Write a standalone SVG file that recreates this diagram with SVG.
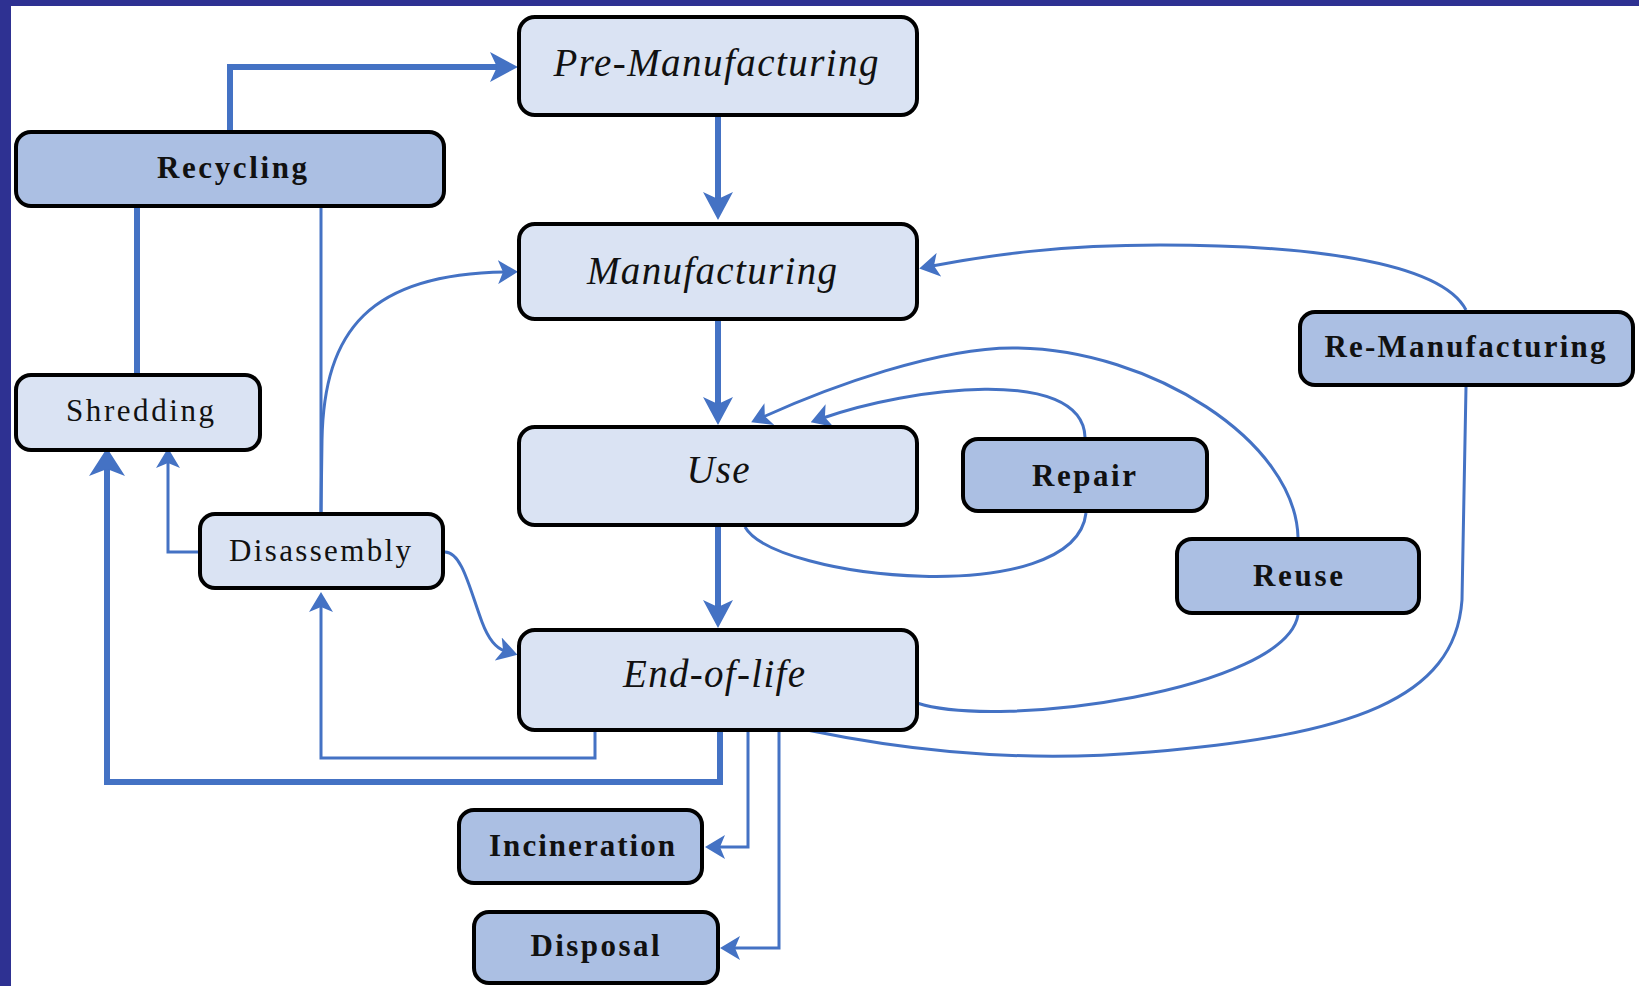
<svg xmlns="http://www.w3.org/2000/svg" width="1639" height="986" viewBox="0 0 1639 986">
<style>
.box rect{stroke:#000;stroke-width:4}
.lt rect{fill:#DAE3F3}
.dk rect{fill:#ABBFE3}
.it{font-family:"Liberation Serif","Times New Roman",serif;font-style:italic;font-size:39px;fill:#111;text-anchor:middle}
.bd{font-family:"Liberation Serif","Times New Roman",serif;font-weight:bold;font-size:31px;fill:#111;text-anchor:middle}
.rg{font-family:"Liberation Serif","Times New Roman",serif;font-size:31px;fill:#111;text-anchor:middle}
.c{fill:none;stroke:#4472C4;stroke-linejoin:miter}
.thick{stroke-width:6}
.thin{stroke-width:3}
</style>
<defs>
<marker id="ah" markerUnits="userSpaceOnUse" markerWidth="28" markerHeight="30" viewBox="0 0 28 30" refX="10" refY="15" orient="auto">
<path d="M0,0 L28,15 L0,30 L7,15 Z" fill="#4472C4"/>
</marker>
<marker id="ahb" markerUnits="userSpaceOnUse" markerWidth="28" markerHeight="36" viewBox="0 0 28 36" refX="10" refY="18" orient="auto">
<path d="M0,0 L28,18 L0,36 L7,18 Z" fill="#4472C4"/>
</marker>
<marker id="as" markerUnits="userSpaceOnUse" markerWidth="20" markerHeight="24" viewBox="0 0 20 24" refX="7" refY="12" orient="auto">
<path d="M0,0 L20,12 L0,24 L5,12 Z" fill="#4472C4"/>
</marker>
</defs>
<rect x="0" y="0" width="1639" height="986" fill="#FFFFFF"/>
<rect x="0" y="0" width="1639" height="6" fill="#2E3192"/>
<rect x="0" y="0" width="11" height="986" fill="#2E3192"/>

<g id="connectors">
<path class="c thick" d="M230,131 V67 H500" marker-end="url(#ah)"/>
<path class="c thick" d="M137,208 V373"/>
<path class="c thin" d="M321,208 V512"/>
<path class="c thin" d="M321,512 L322,440 C324,330 370,274 505,272" marker-end="url(#as)"/>
<path class="c thick" d="M718,117 V202" marker-end="url(#ah)"/>
<path class="c thick" d="M718,320 V407" marker-end="url(#ah)"/>
<path class="c thick" d="M718,527 V610" marker-end="url(#ah)"/>
<path class="c thin" d="M198,552 H168 V461" marker-end="url(#as)"/>
<path class="c thin" d="M445,552 C462,552 470,590 482,622 C488,638 495,648 505,651" marker-end="url(#as)"/>
<path class="c thin" d="M595,732 V758 H321 V605" marker-end="url(#as)"/>
<path class="c thick" d="M720,732 V782 H107 V466" marker-end="url(#ahb)"/>
<path class="c thin" d="M748,732 V847 H718" marker-end="url(#as)"/>
<path class="c thin" d="M779,732 V948 H733" marker-end="url(#as)"/>
<path class="c thin" d="M745,527 C775,580 1075,610 1086,513"/>
<path class="c thin" d="M1085,437 C1082,365 908,388 823,418" marker-end="url(#as)"/>
<path class="c thin" d="M1298,537 C1295,440 1150,350 1018,348 C940,346 827,388 763,417" marker-end="url(#as)"/>
<path class="c thin" d="M1298,615 C1285,690 1000,730 917,703"/>
<path class="c thin" d="M1466,310 C1440,260 1300,245 1160,245 C1060,245 990,255 932,266" marker-end="url(#as)"/>
<path class="c thin" d="M1466,387 L1462,600 C1455,700 1350,735 1150,752 C1000,765 880,745 807,730"/>
</g>

<g id="pre-manufacturing" class="box lt"><rect x="519" y="17" width="398" height="98" rx="16"/><text class="it" x="716" y="76" textLength="325">Pre-Manufacturing</text></g>
<g id="manufacturing" class="box lt"><rect x="519" y="224" width="398" height="95" rx="16"/><text class="it" x="712" y="284" textLength="250">Manufacturing</text></g>
<g id="use" class="box lt"><rect x="519" y="427" width="398" height="98" rx="16"/><text class="it" x="718" y="483" textLength="63">Use</text></g>
<g id="end-of-life" class="box lt"><rect x="519" y="630" width="398" height="100" rx="16"/><text class="it" x="714" y="687" textLength="182">End-of-life</text></g>
<g id="recycling" class="box dk"><rect x="16" y="132" width="428" height="74" rx="15"/><text class="bd" x="232" y="178" textLength="150">Recycling</text></g>
<g id="shredding" class="box lt"><rect x="16" y="375" width="244" height="75" rx="15"/><text class="rg" x="140" y="421" textLength="148">Shredding</text></g>
<g id="disassembly" class="box lt"><rect x="200" y="514" width="243" height="74" rx="15"/><text class="rg" x="320" y="561" textLength="182">Disassembly</text></g>
<g id="repair" class="box dk"><rect x="963" y="439" width="244" height="72" rx="15"/><text class="bd" x="1084" y="486" textLength="104">Repair</text></g>
<g id="reuse" class="box dk"><rect x="1177" y="539" width="242" height="74" rx="15"/><text class="bd" x="1298" y="586" textLength="90">Reuse</text></g>
<g id="re-manufacturing" class="box dk"><rect x="1300" y="312" width="333" height="73" rx="15"/><text class="bd" x="1465" y="357" textLength="281">Re-Manufacturing</text></g>
<g id="incineration" class="box dk"><rect x="459" y="810" width="243" height="73" rx="15"/><text class="bd" x="582" y="856" textLength="186">Incineration</text></g>
<g id="disposal" class="box dk"><rect x="474" y="912" width="244" height="71" rx="15"/><text class="bd" x="595" y="956" textLength="129">Disposal</text></g>
</svg>
